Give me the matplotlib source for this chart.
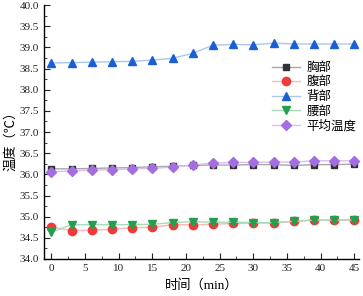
import matplotlib
matplotlib.use("Agg")
import matplotlib.pyplot as plt
from matplotlib.ticker import MultipleLocator, FormatStrFormatter

plt.rcParams['font.family'] = ['Liberation Serif', 'Noto Sans CJK SC']

# time in minutes
t = [0, 3, 6, 9, 12, 15, 18, 21, 24, 27, 30, 33, 36, 39, 42, 45]

chest = [36.13, 36.13, 36.14, 36.15, 36.16, 36.18, 36.19, 36.21,
         36.22, 36.22, 36.23, 36.23, 36.21, 36.23, 36.23, 36.24]
belly = [34.76, 34.67, 34.68, 34.70, 34.74, 34.75, 34.81, 34.81,
         34.82, 34.84, 34.85, 34.85, 34.89, 34.92, 34.92, 34.93]
back = [38.63, 38.64, 38.65, 38.66, 38.67, 38.70, 38.74, 38.86,
        39.05, 39.07, 39.06, 39.10, 39.08, 39.08, 39.08, 39.08]
waist = [34.63, 34.81, 34.81, 34.81, 34.81, 34.82, 34.86, 34.88,
         34.87, 34.87, 34.86, 34.86, 34.89, 34.92, 34.92, 34.92]
average = [36.06, 36.08, 36.10, 36.11, 36.13, 36.14, 36.17, 36.22,
           36.27, 36.28, 36.28, 36.29, 36.29, 36.32, 36.32, 36.32]

names = ['胸部', '腹部', '背部', '腰部', '平均温度']
series = [chest, belly, back, waist, average]
markers = ['s', 'o', '^', 'v', 'D']
mcolors = ['#333333', '#f03a3a', '#1a5fd6', '#22a04e', '#a56ee0']
lcolors = ['#a8a8a8', '#f8b8b8', '#a8c8f0', '#a8dcb8', '#d8c0f0']
msizes = [5, 6, 6, 6, 5]

fig = plt.figure(figsize=(3.63, 2.96), dpi=100)
ax = fig.add_axes([0.121, 0.125, 0.868, 0.858])

for y, nm, mk, mc, lc, ms in zip(series, names, markers, mcolors, lcolors, msizes):
    ax.plot(t, y, color=lc, lw=1.0, marker=mk, markersize=ms,
            markerfacecolor=mc, markeredgecolor=mc, label=nm)

ax.set_xlim(-1.1, 45.7)
ax.set_ylim(34.0, 40.0)
ax.xaxis.set_major_locator(MultipleLocator(5))
ax.xaxis.set_minor_locator(MultipleLocator(2.5))
ax.yaxis.set_major_locator(MultipleLocator(0.5))
ax.yaxis.set_minor_locator(MultipleLocator(0.25))
ax.yaxis.set_major_formatter(FormatStrFormatter('%.1f'))
ax.tick_params(which='both', direction='in', labelsize=8, colors='#222222')
ax.tick_params(which='major', length=4)
ax.tick_params(which='minor', length=2.5)
for s in ['top', 'right']:
    ax.spines[s].set_visible(False)
for s in ['left', 'bottom']:
    ax.spines[s].set_linewidth(1.0)

ax.set_xlabel('时间（min）', fontsize=9.5, labelpad=4)
ax.set_ylabel('温度（℃）', fontsize=9.5)
ax.yaxis.set_label_coords(-0.086, 0.476)

ax.legend(loc='upper left', bbox_to_anchor=(0.724, 0.776), frameon=False,
          fontsize=9, handlelength=2.2, handletextpad=0.55,
          labelspacing=0.2, borderpad=0, borderaxespad=0)

fig.savefig('out.png', dpi=100)
